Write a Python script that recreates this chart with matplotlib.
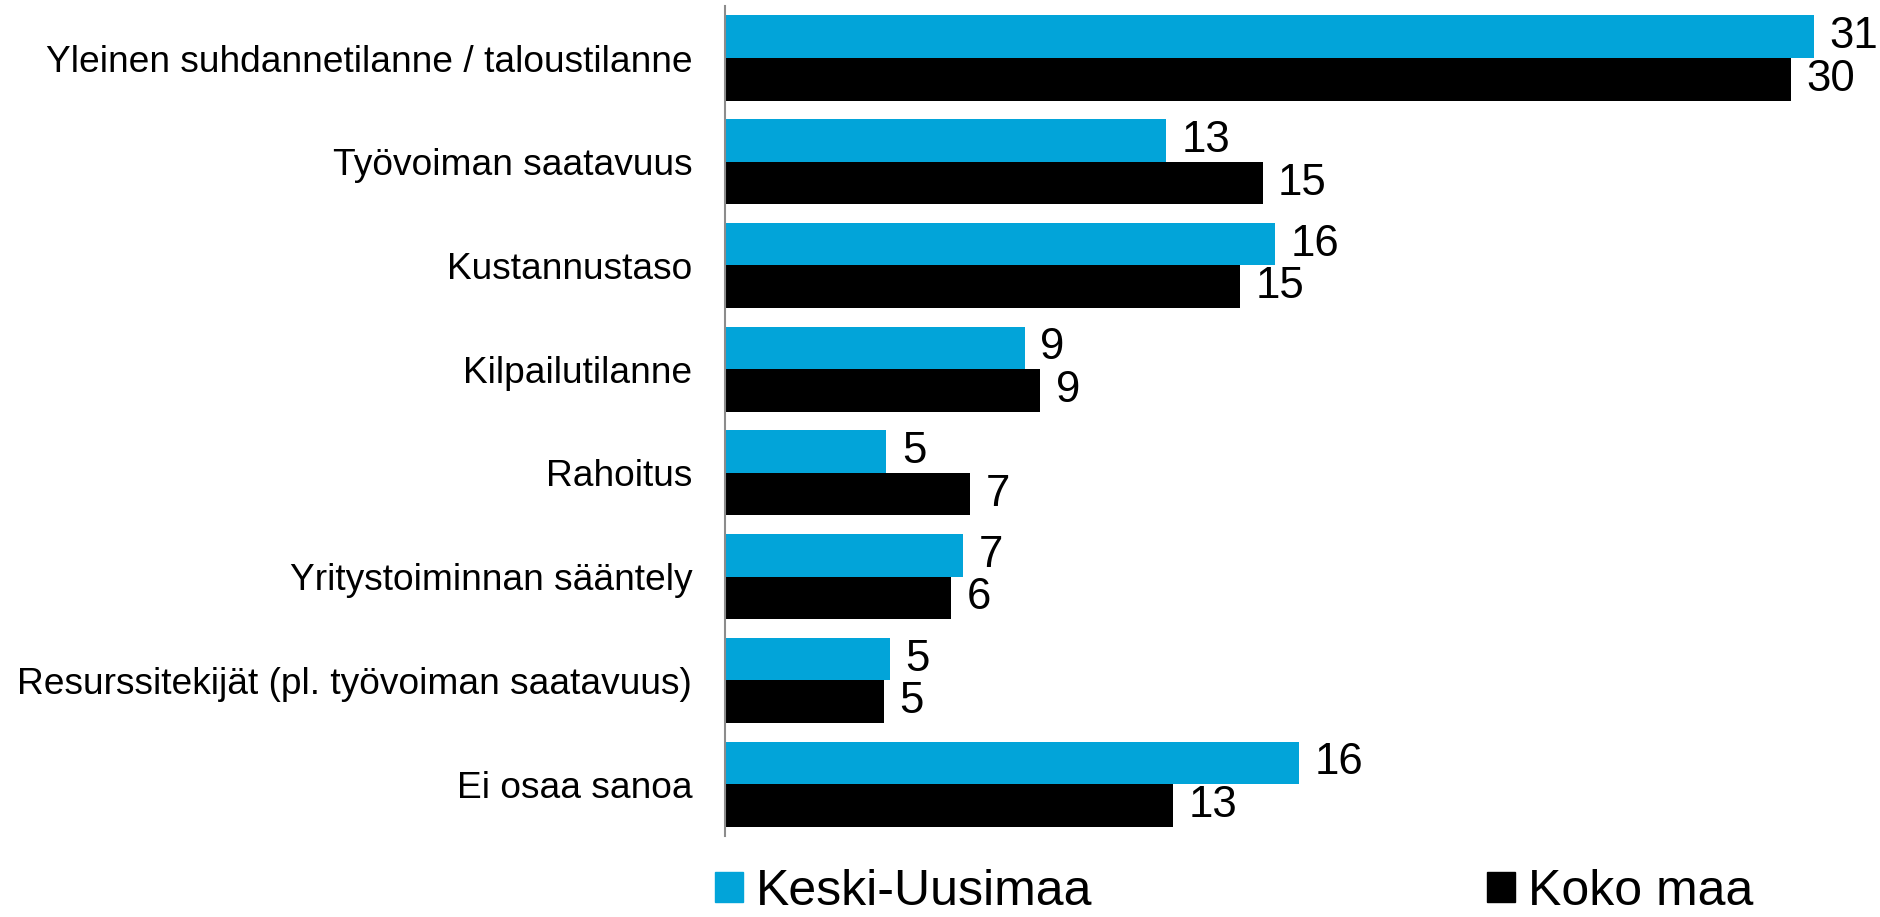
import matplotlib
matplotlib.use("Agg")
import matplotlib.pyplot as plt
import numpy as np
from matplotlib.patches import Patch

plt.rcParams['font.family'] = ['Liberation Sans', 'DejaVu Sans']

categories = [
    "Yleinen suhdannetilanne / taloustilanne",
    "Työvoiman saatavuus",
    "Kustannustaso",
    "Kilpailutilanne",
    "Rahoitus",
    "Yritystoiminnan sääntely",
    "Resurssitekijät (pl. työvoiman saatavuus)",
    "Ei osaa sanoa",
]
series_names = ["Keski-Uusimaa", "Koko maa"]
keski_uusimaa = [31.1, 12.6, 15.7, 8.55, 4.6, 6.8, 4.7, 16.4]
koko_maa = [30.45, 15.35, 14.7, 9.0, 7.0, 6.45, 4.52, 12.8]
colors = ["#02A4D9", "#000000"]

fig = plt.figure(figsize=(18.8, 9.17), dpi=100)
ax = fig.add_axes([0.3859, 0.0883, 0.5957, 0.905])

y = np.arange(len(categories))
h = 0.41
b1 = ax.barh(y - h / 2, keski_uusimaa, height=h, color=colors[0])
b2 = ax.barh(y + h / 2, koko_maa, height=h, color=colors[1])
for bars in (b1, b2):
    ax.bar_label(bars, labels=[f"{v:.0f}" for v in bars.datavalues],
                 padding=11, fontsize=31.5, color="black")

ax.set_xlim(0, 32)
ax.set_ylim(len(categories) - 0.5, -0.5)
ax.set_yticks(y)
ax.set_yticklabels(categories, fontsize=26.7)
ax.tick_params(axis='y', length=0, pad=24)
ax.set_xticks([])
for s in ["top", "right", "bottom"]:
    ax.spines[s].set_visible(False)
ax.spines["left"].set_color("#8c8c8c")
ax.spines["left"].set_linewidth(1.5)

handles = [Patch(color=colors[0]), Patch(color=colors[1])]
fig.legend(handles, series_names, loc="center left",
           bbox_to_anchor=(715 / 1880, 1 - 892 / 917), ncol=2, frameon=False,
           fontsize=36, handlelength=0.55, handleheight=0.55,
           handletextpad=0.26, columnspacing=7.9, borderpad=0, borderaxespad=0)

fig.savefig("out.png", dpi=100)
